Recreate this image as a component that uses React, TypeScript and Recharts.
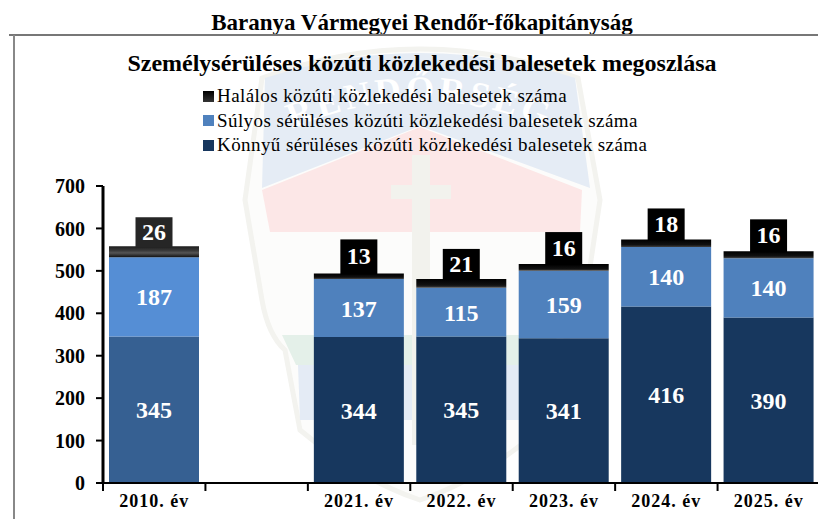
import React from "react";
import { BarChart, Bar, XAxis, YAxis, Cell, LabelList } from "recharts";

const categories = ["2010. év", "", "2021. év", "2022. év", "2023. év", "2024. év", "2025. év"];
const lightInjury = [345, null, 344, 345, 341, 416, 390];
const seriousInjury = [187, null, 137, 115, 159, 140, 140];
const fatal = [26, null, 13, 21, 16, 18, 16];
const yTicks = [0, 100, 200, 300, 400, 500, 600, 700];
const labelBoxHeights = [29, 34, 30, 32, 31, 32];

const SERIF = "'Liberation Serif', 'Times New Roman', serif";
const BAND = 717 / 7;

const data = categories.map((c, i) => ({
  name: c,
  light: lightInjury[i],
  serious: seriousInjury[i],
  fatal: fatal[i],
}));

const legendItems = [
  { label: "Halálos közúti közlekedési balesetek száma", css: "linear-gradient(#000,#333)" },
  { label: "Súlyos sérüléses közúti közlekedési balesetek száma", css: "#4f81bd" },
  { label: "Könnyű sérüléses közúti közlekedési balesetek száma", css: "#17375e" },
];

const XTick = (props: any) => {
  const { x, y, payload, index } = props;
  const left = x - BAND / 2;
  return (
    <g>
      <line x1={left} x2={left} y1={y - 8} y2={y} stroke="#000" strokeWidth={2} />
      {index === categories.length - 1 && (
        <line x1={left + BAND} x2={left + BAND} y1={y - 8} y2={y} stroke="#000" strokeWidth={2} />
      )}
      <text x={x} y={y + 16} textAnchor="middle" fontFamily={SERIF} fontWeight={700} fontSize={18} letterSpacing={1} fill="#000">
        {payload.value}
      </text>
    </g>
  );
};

const FatalLabel = (props: any) => {
  const { x, y, width, value, index } = props;
  if (value == null) return null;
  const cx = x + width / 2;
  const h = labelBoxHeights[index] ?? 31;
  const fill = index === 0 ? "#262626" : "#000";
  return (
    <g>
      <rect x={cx - 18.5} y={y - h} width={37} height={h + 1} fill={fill} />
      <text x={cx} y={y - h / 2 + 8} textAnchor="middle" fontFamily={SERIF} fontWeight={700} fontSize={24} fill="#fff">
        {value}
      </text>
    </g>
  );
};

const LegendBox = () => (
  <div style={{ position: "absolute", left: 203, top: 84, fontFamily: SERIF, fontSize: 19, lineHeight: "24.5px", color: "#000", letterSpacing: 0.42, whiteSpace: "nowrap" }}>
    {legendItems.map((it) => (
      <div key={it.label} style={{ display: "flex", alignItems: "center" }}>
        <span style={{ width: 11, height: 11, background: it.css, marginRight: 3, flex: "none" }} />
        {it.label}
      </div>
    ))}
  </div>
);

const Watermark = () => (
  <svg width={818} height={519} style={{ position: "absolute", left: 0, top: 0, opacity: 0.75 }}>
    <path d="M262 78 Q420 20 578 78 L600 200 L585 300 Q575 335 555 350 L540 430 Q480 480 420 500 Q360 480 300 430 L285 350 Q268 335 262 300 L245 200 Z" fill="#fcfcfa" stroke="#efefea" strokeWidth={5} />
    <path d="M265 78 Q420 28 575 78 L590 188 L420 126 L262 188 Z" fill="#dde6f2" />
    <path d="M262 190 L420 127 L582 190 L580 232 L270 232 Z" fill="#fbdfdf" />
    <path d="M282 335 L558 335 L545 365 L296 365 Z" fill="#dcebe2" />
    <path d="M298 365 L542 365 L540 420 L300 420 Z" fill="#dbe5f2" />
    <rect x={412} y={155} width={18} height={290} fill="#eeeee8" />
    <rect x={391} y={185} width={60} height={14} fill="#eeeee8" />
    <path id="wmArc" d="M285 132 Q420 70 555 132" fill="none" />
    <text fontFamily={SERIF} fontWeight={700} fontSize={36} letterSpacing={4} fill="#fff">
      <textPath href="#wmArc" startOffset="50%" textAnchor="middle">RENDŐRSÉG</textPath>
    </text>
  </svg>
);

export default function App() {
  return (
    <div style={{ position: "absolute", left: 0, top: 0, width: 818, height: 519, overflow: "hidden", background: "#fff" }}>
      <Watermark />
      <div style={{ position: "absolute", left: 0, top: 10, width: 844, textAlign: "center", fontFamily: SERIF, fontWeight: 700, fontSize: 23, lineHeight: "26px", color: "#000" }}>
        Baranya Vármegyei Rendőr-főkapitányság
      </div>
      <div style={{ position: "absolute", left: 9, top: 34, width: 809, height: 2, background: "#777" }} />
      <div style={{ position: "absolute", left: 13, top: 35, width: 2, height: 484, background: "#888" }} />
      <div style={{ position: "absolute", left: 0, top: 49, width: 844, textAlign: "center", fontFamily: SERIF, fontWeight: 700, fontSize: 24, lineHeight: "28px", color: "#000" }}>
        Személysérüléses közúti közlekedési balesetek megoszlása
      </div>
      <LegendBox />
      <div style={{ position: "absolute", left: 0, top: 0 }}>
        <BarChart width={840} height={519} data={data} margin={{ top: 186, right: 20, bottom: 0, left: 0 }} barSize={90} barGap={0}>
          <defs>
            <linearGradient id="fatalGrad" x1="0" y1="0" x2="0" y2="1">
              <stop offset="0" stopColor="#000" />
              <stop offset="0.7" stopColor="#111" />
              <stop offset="1" stopColor="#444" />
            </linearGradient>
            <linearGradient id="fatalGrad2010" x1="0" y1="0" x2="0" y2="1">
              <stop offset="0" stopColor="#1c1c1c" />
              <stop offset="0.4" stopColor="#3a3a3a" />
              <stop offset="0.6" stopColor="#555" />
              <stop offset="1" stopColor="#111" />
            </linearGradient>
          </defs>
          <XAxis
            dataKey="name"
            interval={0}
            height={36}
            tick={<XTick />}
            tickLine={false}
            axisLine={{ stroke: "#000", strokeWidth: 2 }}
          />
          <YAxis
            domain={[0, 700]}
            ticks={yTicks}
            interval={0}
            width={103}
            tickSize={7}
            tickMargin={11}
            tickLine={{ stroke: "#000", strokeWidth: 2 }}
            axisLine={{ stroke: "#000", strokeWidth: 3 }}
            tick={{ fontFamily: SERIF, fontWeight: 700, fontSize: 20, fill: "#000" }}
          />
          <Bar dataKey="light" stackId="a" isAnimationActive={false} fill="#17375e">
            {data.map((d, i) => (
              <Cell key={i} fill={i === 0 ? "#366092" : "#17375e"} />
            ))}
            <LabelList dataKey="light" position="center" fill="#fff" fontFamily={SERIF} fontWeight={700} fontSize={24} />
          </Bar>
          <Bar dataKey="serious" stackId="a" isAnimationActive={false} fill="#4f81bd">
            {data.map((d, i) => (
              <Cell key={i} fill={i === 0 ? "#558ed5" : "#4f81bd"} />
            ))}
            <LabelList dataKey="serious" position="center" fill="#fff" fontFamily={SERIF} fontWeight={700} fontSize={24} />
          </Bar>
          <Bar dataKey="fatal" stackId="a" isAnimationActive={false} fill="url(#fatalGrad)">
            {data.map((d, i) => (
              <Cell key={i} fill={i === 0 ? "url(#fatalGrad2010)" : "url(#fatalGrad)"} />
            ))}
            <LabelList dataKey="fatal" content={<FatalLabel />} />
          </Bar>
        </BarChart>
      </div>
    </div>
  );
}
